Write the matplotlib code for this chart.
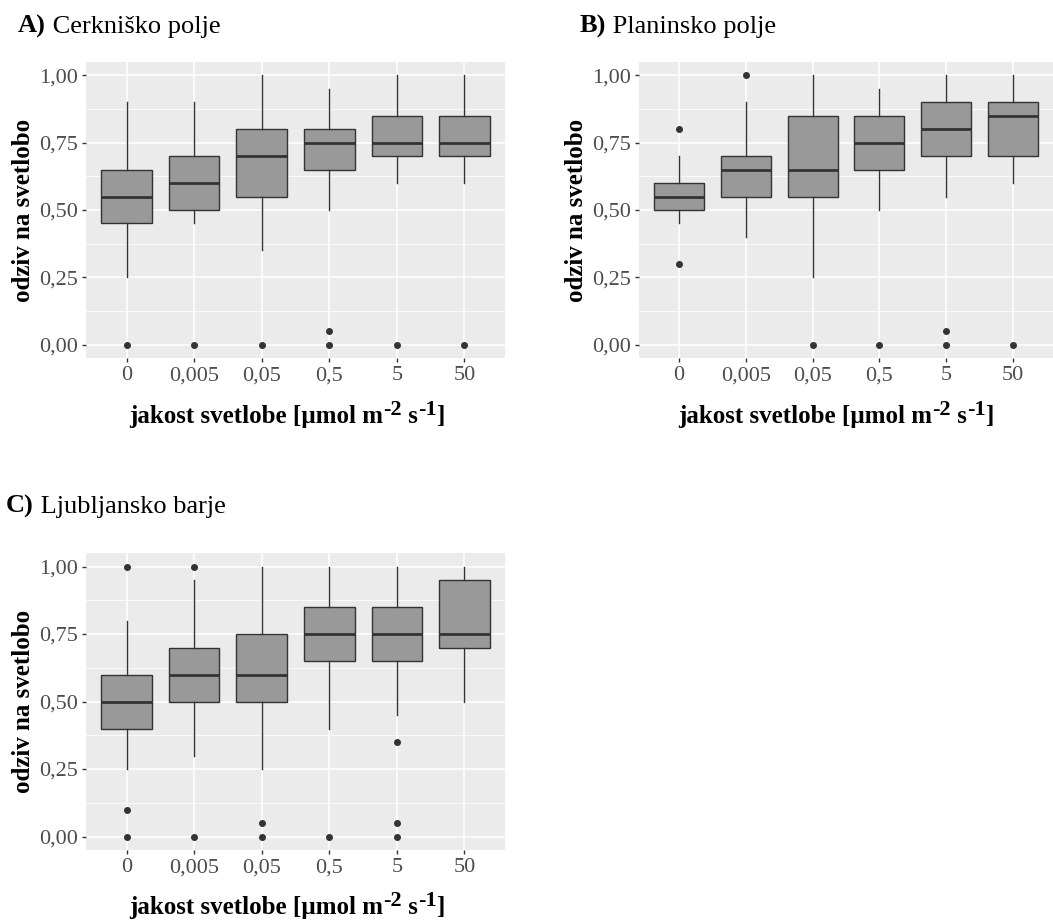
import matplotlib
matplotlib.use("Agg")
import matplotlib.pyplot as plt
import numpy as np

plt.rcParams['font.family'] = ['Liberation Serif', 'DejaVu Serif']

categories = ["0", "0,005", "0,05", "0,5", "5", "50"]

# Panel A: Cerkniško polje
a_whislo = [0.25, 0.45, 0.35, 0.50, 0.60, 0.60]
a_q1     = [0.45, 0.50, 0.55, 0.65, 0.70, 0.70]
a_med    = [0.55, 0.60, 0.70, 0.75, 0.75, 0.75]
a_q3     = [0.65, 0.70, 0.80, 0.80, 0.85, 0.85]
a_whishi = [0.90, 0.90, 1.00, 0.95, 1.00, 1.00]
a_fliers = [[0.0], [0.0], [0.0], [0.0, 0.05], [0.0], [0.0]]

# Panel B: Planinsko polje
b_whislo = [0.45, 0.40, 0.25, 0.50, 0.55, 0.60]
b_q1     = [0.50, 0.55, 0.55, 0.65, 0.70, 0.70]
b_med    = [0.55, 0.65, 0.65, 0.75, 0.80, 0.85]
b_q3     = [0.60, 0.70, 0.85, 0.85, 0.90, 0.90]
b_whishi = [0.70, 0.90, 1.00, 0.95, 1.00, 1.00]
b_fliers = [[0.80, 0.30], [1.00], [0.0], [0.0], [0.0, 0.05], [0.0]]

# Panel C: Ljubljansko barje
c_whislo = [0.25, 0.30, 0.25, 0.40, 0.45, 0.50]
c_q1     = [0.40, 0.50, 0.50, 0.65, 0.65, 0.70]
c_med    = [0.50, 0.60, 0.60, 0.75, 0.75, 0.75]
c_q3     = [0.60, 0.70, 0.75, 0.85, 0.85, 0.95]
c_whishi = [0.80, 0.95, 1.00, 1.00, 1.00, 1.00]
c_fliers = [[1.00, 0.10, 0.0], [1.00, 0.0], [0.05, 0.0], [0.0], [0.35, 0.05, 0.0], []]

yticks = [0.0, 0.25, 0.5, 0.75, 1.0]
ytick_labels = ["0,00", "0,25", "0,50", "0,75", "1,00"]

W, H = 1053, 924
fig = plt.figure(figsize=(W / 100, H / 100), dpi=100)

BG = "#EBEBEB"
DARK = "#333333"
FILL = "#999999"
TICKC = "#4D4D4D"


def px_axes(left, top, right, bottom):
    return fig.add_axes([left / W, (H - bottom) / H, (right - left) / W, (bottom - top) / H])


def draw_panel(ax, whislo, q1, med, q3, whishi, fliers):
    stats = []
    for i in range(len(categories)):
        stats.append(dict(whislo=whislo[i], q1=q1[i], med=med[i], q3=q3[i],
                          whishi=whishi[i], fliers=fliers[i], label=categories[i]))
    pos = np.arange(1, len(categories) + 1)
    ax.set_facecolor(BG)
    ax.set_axisbelow(True)
    ax.bxp(stats, positions=pos, widths=0.75, patch_artist=True, showcaps=False,
           boxprops=dict(facecolor=FILL, edgecolor=DARK, linewidth=1.0),
           medianprops=dict(color=DARK, linewidth=2.0),
           whiskerprops=dict(color=DARK, linewidth=1.0),
           flierprops=dict(marker='o', markersize=4, markerfacecolor=DARK,
                           markeredgecolor=DARK, linestyle='none'),
           zorder=3)
    ax.set_xlim(0.4, len(categories) + 0.6)
    ax.set_ylim(-0.05, 1.05)
    ax.set_yticks(yticks)
    ax.set_yticklabels(ytick_labels)
    ax.set_yticks([0.125, 0.375, 0.625, 0.875], minor=True)
    ax.set_xticks(pos)
    ax.set_xticklabels(categories)
    ax.grid(True, which='major', color='white', linewidth=1.1)
    ax.grid(True, which='minor', axis='y', color='white', linewidth=0.55)
    for s in ax.spines.values():
        s.set_visible(False)
    ax.tick_params(which='major', length=3, width=1, color=DARK, labelsize=16,
                   labelcolor=TICKC, pad=3)
    ax.tick_params(which='minor', length=0)
    ax.set_ylabel("odziv na svetlobo", fontsize=18, fontweight='bold', labelpad=2.5)


def rich_text(xc, y_base, pieces):
    """Draw (text, size, raise_px) pieces centered at xc (px), baseline y_base (px from top)."""
    fig.canvas.draw()
    r = fig.canvas.get_renderer()
    arts = []
    for txt, size, rise in pieces:
        t = fig.text(0, 1 - (y_base - rise) / H, txt, fontsize=size, fontweight='bold',
                     ha='left', va='baseline')
        arts.append(t)
    widths = [a.get_window_extent(renderer=r).width for a in arts]
    x = xc - sum(widths) / 2
    for a, w in zip(arts, widths):
        a.set_x(x / W)
        x += w


xlabel_pieces = [("jakost svetlobe [µmol m", 18, 0), ("-2", 16, 8),
                 (" s", 18, 0), ("-1", 16, 8), ("]", 18, 0)]

axA = px_axes(86, 62, 505, 358)
draw_panel(axA, a_whislo, a_q1, a_med, a_q3, a_whishi, a_fliers)
axB = px_axes(639, 62, 1053, 358)
draw_panel(axB, b_whislo, b_q1, b_med, b_q3, b_whishi, b_fliers)
axC = px_axes(86, 553, 505, 850)
draw_panel(axC, c_whislo, c_q1, c_med, c_q3, c_whishi, c_fliers)

rich_text(287, 423, xlabel_pieces)
rich_text(836, 423, xlabel_pieces)
rich_text(287, 914, xlabel_pieces)

for (x, yb, bold, rest) in [(18, 33, "A)", "Cerkniško polje"),
                            (580, 33, "B)", "Planinsko polje"),
                            (6, 513, "C)", "Ljubljansko barje")]:
    t = fig.text(x / W, 1 - yb / H, bold, fontsize=19, fontweight='bold',
                 ha='left', va='baseline')
    fig.canvas.draw()
    bb = t.get_window_extent()
    fig.text(bb.x1 / W, 1 - yb / H, " " + rest, fontsize=19, ha='left', va='baseline')

fig.savefig("out.png", dpi=100, facecolor='white')
